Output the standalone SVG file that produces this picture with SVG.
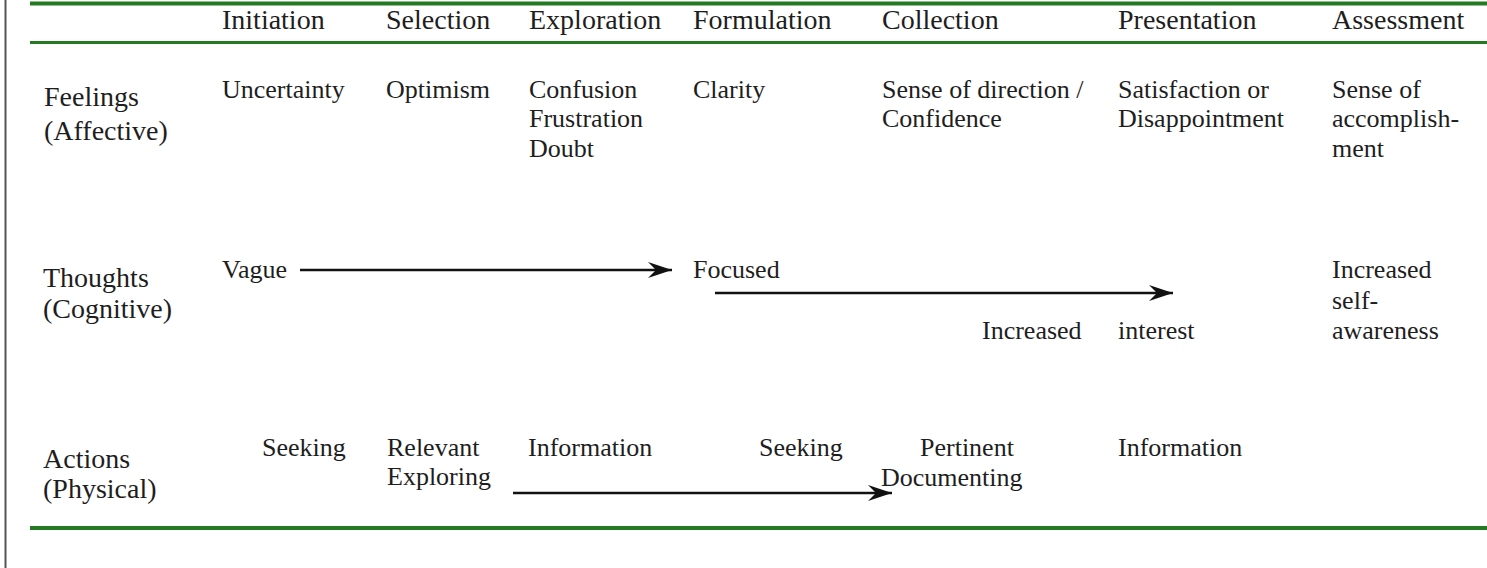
<svg xmlns="http://www.w3.org/2000/svg" width="1487" height="568" viewBox="0 0 1487 568">
  <style>
    text { font-family: "Liberation Serif", "Times New Roman", serif; fill: #1e1e1e; }
    .hd { font-size: 28px; }
    .lb { font-size: 28px; }
    .bd { font-size: 26px; }
    .rule { stroke: #237a23; fill: none; }
    .conn { stroke: #111; stroke-width: 2.6; fill: none; }
  </style>
  <defs>
    <marker id="arr" markerUnits="userSpaceOnUse" markerWidth="30" markerHeight="20" viewBox="-26 -10 28 20" refX="0" refY="0" orient="auto">
      <path d="M0,0 L-24,-8 L-16,0 L-24,8 Z" fill="#111"/>
    </marker>
  </defs>
  <rect width="1487" height="568" fill="#ffffff"/>
  <line x1="5.5" y1="0" x2="5.5" y2="568" stroke="#555" stroke-width="2"/>
  <g id="rules">
    <line class="rule" x1="30" y1="3.5" x2="1487" y2="3.5" stroke-width="4"/>
    <line class="rule" x1="30" y1="42.5" x2="1487" y2="42.5" stroke-width="3"/>
    <line class="rule" x1="30" y1="528" x2="1487" y2="528" stroke-width="4"/>
  </g>
  <g id="header">
    <text class="hd" x="222" y="29">Initiation</text>
    <text class="hd" x="386" y="29">Selection</text>
    <text class="hd" x="529" y="29">Exploration</text>
    <text class="hd" x="693" y="29">Formulation</text>
    <text class="hd" x="882" y="29">Collection</text>
    <text class="hd" x="1118" y="29">Presentation</text>
    <text class="hd" x="1332" y="29">Assessment</text>
  </g>
  <g id="row-feelings">
    <text class="lb" x="44" y="106">Feelings</text>
    <text class="lb" x="44" y="140">(Affective)</text>
    <text class="bd" x="222" y="98">Uncertainty</text>
    <text class="bd" x="386" y="98">Optimism</text>
    <text class="bd" x="529" y="98">Confusion</text>
    <text class="bd" x="529" y="127">Frustration</text>
    <text class="bd" x="529" y="157">Doubt</text>
    <text class="bd" x="693" y="98">Clarity</text>
    <text class="bd" x="882" y="98">Sense of direction /</text>
    <text class="bd" x="882" y="127">Confidence</text>
    <text class="bd" x="1118" y="98">Satisfaction or</text>
    <text class="bd" x="1118" y="127">Disappointment</text>
    <text class="bd" x="1332" y="98">Sense of</text>
    <text class="bd" x="1332" y="127">accomplish-</text>
    <text class="bd" x="1332" y="157">ment</text>
  </g>
  <g id="row-thoughts">
    <text class="lb" x="43" y="287">Thoughts</text>
    <text class="lb" x="43" y="318">(Cognitive)</text>
    <text class="bd" x="222" y="278">Vague</text>
    <text class="bd" x="693" y="278">Focused</text>
    <text class="bd" x="982" y="339">Increased</text>
    <text class="bd" x="1118" y="339">interest</text>
    <text class="bd" x="1332" y="278">Increased</text>
    <text class="bd" x="1332" y="309">self-</text>
    <text class="bd" x="1332" y="339">awareness</text>
  </g>
  <g id="row-actions">
    <text class="lb" x="43" y="468">Actions</text>
    <text class="lb" x="43" y="498">(Physical)</text>
    <text class="bd" x="262" y="456">Seeking</text>
    <text class="bd" x="387" y="456">Relevant</text>
    <text class="bd" x="387" y="485">Exploring</text>
    <text class="bd" x="528" y="456">Information</text>
    <text class="bd" x="759" y="456">Seeking</text>
    <text class="bd" x="920" y="456">Pertinent</text>
    <text class="bd" x="881" y="486">Documenting</text>
    <text class="bd" x="1118" y="456">Information</text>
  </g>
  <g id="connectors">
    <line class="conn" x1="300" y1="270" x2="672" y2="270" marker-end="url(#arr)"/>
    <line class="conn" x1="715" y1="293" x2="1173" y2="293" marker-end="url(#arr)"/>
    <line class="conn" x1="513" y1="493" x2="892" y2="493" marker-end="url(#arr)"/>
  </g>
</svg>
